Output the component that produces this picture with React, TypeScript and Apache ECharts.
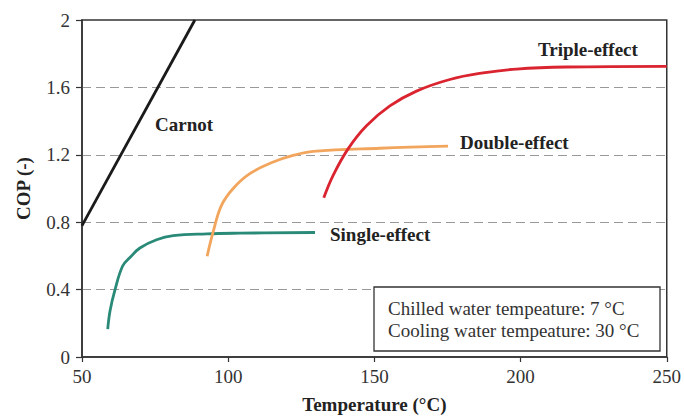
import React, { useEffect, useRef } from "react";
import * as echarts from "echarts";

const xTicks = [50, 100, 150, 200, 250];
const yTicks = [0, 0.4, 0.8, 1.2, 1.6, 2];

const carnot: [number, number][] = [
  [50, 0.78], [88.6, 2.0],
];
const singleEffect: [number, number][] = [
  [58.8, 0.166], [59.6, 0.275], [61.3, 0.4], [63.9, 0.54], [66.4, 0.59],
  [69.8, 0.647], [75.5, 0.696], [81.2, 0.72], [92.6, 0.731], [104, 0.735],
  [129.7, 0.739],
];
const doubleEffect: [number, number][] = [
  [92.8, 0.598], [94.9, 0.745], [97.7, 0.9], [101.7, 1.0], [107.4, 1.088],
  [115.4, 1.157], [122.2, 1.196], [129.1, 1.22], [151.9, 1.239], [175.2, 1.251],
];
const tripleEffect: [number, number][] = [
  [132.7, 0.945], [135.9, 1.078], [141, 1.235], [147.3, 1.372], [155.3, 1.49],
  [164.4, 1.578], [175.8, 1.647], [187.2, 1.686], [198.6, 1.709],
  [215.7, 1.721], [250, 1.725],
];

const seriesNames = ["Carnot", "Single-effect", "Double-effect", "Triple-effect"];
const boxLines = ["Chilled water tempeature: 7 °C", "Cooling water tempeature: 30 °C"];

const FONT = "'Liberation Serif', 'Times New Roman', serif";

export default function App() {
  const ref = useRef<HTMLDivElement>(null);
  useEffect(() => {
    document.body.style.margin = "0";
    if (!ref.current) return;
    const chart = echarts.init(ref.current, undefined, { renderer: "svg" });
    const mk = (name: string, data: [number, number][], color: string, smooth: number | false) => ({
      type: "line",
      name,
      data,
      showSymbol: false,
      smooth,
      lineStyle: { color, width: 2.8 },
      z: 3,
    });
    chart.setOption({
      animation: false,
      backgroundColor: "#fff",
      grid: {
        left: 82, right: 17, top: 20, bottom: 59,
        show: true, borderColor: "#333", borderWidth: 1.5, backgroundColor: "transparent",
      },
      xAxis: {
        type: "value", min: xTicks[0], max: xTicks[xTicks.length - 1], interval: 50,
        name: "Temperature (°C)", nameLocation: "middle", nameGap: 38,
        nameTextStyle: { fontFamily: FONT, fontSize: 19, fontWeight: "bold", color: "#222" },
        axisLine: { show: true, lineStyle: { color: "#333", width: 1.5 } },
        axisTick: { show: true, length: 5, lineStyle: { color: "#333", width: 1.2 } },
        axisLabel: { fontFamily: FONT, fontSize: 19, color: "#333", margin: 10 },
        splitLine: { show: false },
      },
      yAxis: {
        type: "value", min: yTicks[0], max: yTicks[yTicks.length - 1], interval: 0.4,
        name: "COP (-)", nameLocation: "middle", nameGap: 49,
        nameTextStyle: { fontFamily: FONT, fontSize: 19, fontWeight: "bold", color: "#222" },
        axisLine: { show: true, lineStyle: { color: "#333", width: 1.5 } },
        axisTick: { show: true, length: 6, lineStyle: { color: "#333", width: 1.2 } },
        axisLabel: { fontFamily: FONT, fontSize: 19, color: "#333", margin: 12 },
        splitLine: {
          show: true, showMinLine: false, showMaxLine: false,
          lineStyle: { color: "#999", type: [9, 5], width: 1.2 },
        },
      },
      series: [
        mk(seriesNames[0], carnot, "#1a1a1a", false),
        mk(seriesNames[1], singleEffect, "#2a8a78", 0.4),
        mk(seriesNames[2], doubleEffect, "#f2a55c", 0.4),
        mk(seriesNames[3], tripleEffect, "#da2430", 0.4),
      ],
      graphic: [
        { type: "text", left: 155, top: 115, style: { text: seriesNames[0], font: `bold 19px ${FONT}`, fill: "#222" } },
        { type: "text", left: 330, top: 225, style: { text: seriesNames[1], font: `bold 19px ${FONT}`, fill: "#222" } },
        { type: "text", left: 460, top: 133, style: { text: seriesNames[2], font: `bold 19px ${FONT}`, fill: "#222" } },
        { type: "text", left: 538, top: 40, style: { text: seriesNames[3], font: `bold 19px ${FONT}`, fill: "#222" } },
        {
          type: "rect", shape: { x: 374, y: 287, width: 286, height: 64 }, z: 10,
          style: { fill: "#fff", stroke: "#333", lineWidth: 1.3 },
        },
        { type: "text", left: 388, top: 299, z: 11, style: { text: boxLines[0], font: `19px ${FONT}`, fill: "#333" } },
        { type: "text", left: 388, top: 321, z: 11, style: { text: boxLines[1], font: `19px ${FONT}`, fill: "#333" } },
      ],
    });
    return () => chart.dispose();
  }, []);
  return <div ref={ref} style={{ width: 684, height: 419 }} />;
}
